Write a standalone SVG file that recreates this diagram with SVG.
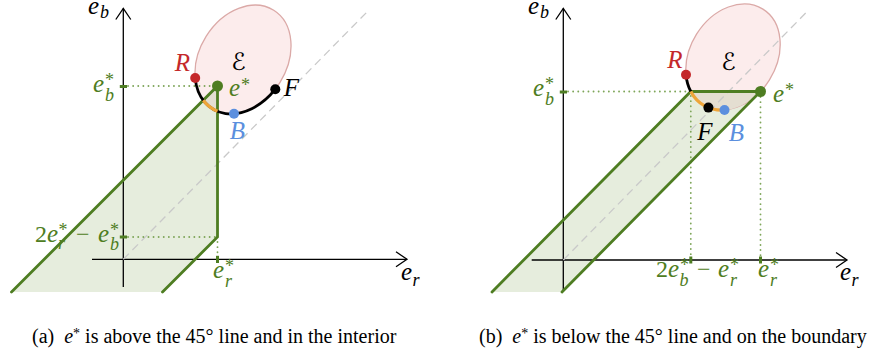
<svg xmlns="http://www.w3.org/2000/svg" width="870" height="354" viewBox="0 0 870 354">
<defs>
<style>
.ax{stroke:#000;stroke-width:1.3;fill:none}
.dash{stroke:#c9c9c9;stroke-width:1.3;stroke-dasharray:8 5;fill:none}
.dot{stroke:#7fa65a;stroke-width:1.8;stroke-dasharray:0.1 5;stroke-linecap:round;fill:none}
.tick{stroke:#4e7d22;stroke-width:3;fill:none}
.gl{stroke:#4e7d22;stroke-width:2.8;fill:none;stroke-linecap:round}
.gfill{fill:#e6eddd;stroke:none}
.ell{fill:#fcecec;stroke:#dba9a7;stroke-width:1.3}
.inter{fill:#e4ded1;stroke:none}
.arcb{stroke:#000;stroke-width:2.8;fill:none}
.arco{stroke:#eea53a;stroke-width:3.2;fill:none}
.mi{font-family:"Liberation Serif","Times New Roman",serif;font-style:italic;font-size:25px}
.up{font-family:"Liberation Serif","Times New Roman",serif;font-size:24px}
.sub{font-family:"Liberation Serif","Times New Roman",serif;font-style:italic;font-size:18px}
.st{font-family:"Liberation Serif","Times New Roman",serif;font-size:18px}
.scr{font-family:"DejaVu Serif","DejaVu Sans",serif;font-size:24px;text-anchor:middle}
.g{fill:#4e7d22}
.red{fill:#c4282a}
.blue{fill:#5b8fde}
.cap{font-family:"Liberation Serif","Times New Roman",serif;font-size:20px;fill:#000}
</style>
<marker id="arr" markerUnits="userSpaceOnUse" viewBox="-13 -9 15 18" refX="0" refY="0" markerWidth="15" markerHeight="18" orient="auto">
<path d="M -11 -7.5 L 0 0 L -11 7.5" stroke="#000" stroke-width="1.3" fill="none"/>
</marker>
</defs>

<!-- Panel (a) -->
<g id="panel-a">
<g id="a-region">
<path class="gfill" d="M 11.5 292 L 217.5 86 L 217.5 237 L 162.5 292 Z"/>
</g>
<g id="a-ellipse">
<ellipse class="ell" cx="243" cy="59.5" rx="43.5" ry="58" transform="rotate(32 243 59.5)"/>
<path class="inter" d="M 203.2 100.3 L 217.5 86 L 217.5 111.3 A 43.5 58 32 0 1 203.2 100.3 Z"/>
</g>
<g id="a-axes">
<line class="ax" x1="123.3" y1="287" x2="123.3" y2="8.5" marker-end="url(#arr)"/>
<line class="ax" x1="92" y1="259.3" x2="407" y2="259.3" marker-end="url(#arr)"/>
<line class="dash" x1="123.3" y1="259.3" x2="367" y2="12"/>
</g>
<g id="a-guides">
<line class="dot" x1="128" y1="86" x2="214" y2="86"/>
<line class="dot" x1="128" y1="237" x2="215" y2="237"/>
<line class="dot" x1="217.5" y1="242" x2="217.5" y2="256"/>
<line class="tick" x1="119.8" y1="86.5" x2="127" y2="86.5"/>
<line class="tick" x1="119.8" y1="237" x2="127" y2="237"/>
<line class="tick" x1="217.5" y1="255.8" x2="217.5" y2="263"/>
</g>
<g id="a-connectors">
<path class="gl" d="M 11.5 292 L 217.5 86 L 217.5 237 L 162.5 292"/>
<path class="arcb" d="M 195.2 78 A 43.5 58 32 0 0 275.3 89.2"/>
<path class="arco" d="M 203.2 100.3 A 43.5 58 32 0 0 217.5 111.3"/>
</g>
<g id="a-R"><circle cx="195.2" cy="78" r="5" fill="#c4282a"/><text class="mi red" x="182.5" y="71" text-anchor="middle">R</text></g>
<g id="a-F"><circle cx="275.3" cy="89.2" r="5" fill="#000"/><text class="mi" x="291.5" y="96" text-anchor="middle">F</text></g>
<g id="a-B"><circle cx="234" cy="113.7" r="5" fill="#5b8fde"/><text class="mi blue" x="237.5" y="139" text-anchor="middle">B</text></g>
<g id="a-estar"><circle cx="217.5" cy="86" r="5.5" fill="#4e7d22"/><text class="mi g" x="229" y="96">e</text><text class="st g" x="241" y="90.5">*</text></g>
<g id="a-E"><text class="scr" x="238.5" y="70">ℰ</text></g>
<g id="a-labels">
<text class="mi" x="88" y="14">e</text><text class="sub" x="100" y="18">b</text>
<text class="mi" x="401" y="280">e</text><text class="sub" x="412.5" y="286">r</text>
<text class="mi g" x="93" y="92">e</text><text class="st g" x="105" y="85.5">*</text><text class="sub g" x="105" y="101">b</text>
<text class="up g" x="35" y="242">2</text><text class="mi g" x="47" y="242">e</text><text class="st g" x="58.5" y="235.5">*</text><text class="sub g" x="58" y="249">r</text>
<text class="up g" x="76" y="242">−</text>
<text class="mi g" x="98" y="242">e</text><text class="st g" x="110" y="235.5">*</text><text class="sub g" x="110" y="250">b</text>
<text class="mi g" x="213" y="278">e</text><text class="st g" x="225" y="271.5">*</text><text class="sub g" x="225" y="287">r</text>
</g>
</g>

<!-- Panel (b) -->
<g id="panel-b">
<g id="b-region">
<path class="gfill" d="M 690.8 91.5 L 760.5 91.5 L 562 292 L 492 292 Z"/>
</g>
<g id="b-ellipse">
<ellipse class="ell" cx="733" cy="57" rx="43" ry="56.5" transform="rotate(32 733 57)"/>
<path class="inter" d="M 690.8 91.5 L 760.5 91.5 A 43 56.5 32 0 1 690.8 91.5 Z"/>
</g>
<g id="b-axes">
<line class="ax" x1="563.3" y1="291" x2="563.3" y2="8.5" marker-end="url(#arr)"/>
<line class="ax" x1="531.7" y1="260" x2="847" y2="260" marker-end="url(#arr)"/>
<line class="dash" x1="563.3" y1="260" x2="806.7" y2="12"/>
</g>
<g id="b-guides">
<line class="dot" x1="568" y1="91.5" x2="688" y2="91.5"/>
<line class="dot" x1="690.8" y1="96" x2="690.8" y2="256"/>
<line class="dot" x1="760.5" y1="97" x2="760.5" y2="256"/>
<line class="tick" x1="559.8" y1="92" x2="567" y2="92"/>
<line class="tick" x1="690.8" y1="256.5" x2="690.8" y2="263.5"/>
<line class="tick" x1="760.5" y1="256.5" x2="760.5" y2="263.5"/>
</g>
<g id="b-connectors">
<path class="gl" d="M 492 292 L 690.8 91.5 L 760.5 91.5 L 562 292"/>
<path class="arcb" d="M 686 74.8 A 43 56.5 32 0 0 690.8 91.5"/>
<path class="arco" d="M 690.8 91.5 A 43 56.5 32 0 0 724.5 110"/>
</g>
<g id="b-R"><circle cx="686" cy="74.8" r="5" fill="#c4282a"/><text class="mi red" x="675" y="68" text-anchor="middle">R</text></g>
<g id="b-F"><circle cx="708.4" cy="107.6" r="5" fill="#000"/><text class="mi" x="705" y="140" text-anchor="middle">F</text></g>
<g id="b-B"><circle cx="724.5" cy="110" r="5" fill="#5b8fde"/><text class="mi blue" x="736.5" y="141" text-anchor="middle">B</text></g>
<g id="b-estar"><circle cx="760.5" cy="91.5" r="5.5" fill="#4e7d22"/><text class="mi g" x="773" y="101.5">e</text><text class="st g" x="785" y="96">*</text></g>
<g id="b-E"><text class="scr" x="728.5" y="70">ℰ</text></g>
<g id="b-labels">
<text class="mi" x="528" y="14">e</text><text class="sub" x="540" y="18">b</text>
<text class="mi" x="840" y="280">e</text><text class="sub" x="851.5" y="286">r</text>
<text class="mi g" x="533" y="96">e</text><text class="st g" x="545" y="89.5">*</text><text class="sub g" x="545" y="105">b</text>
<text class="up g" x="656" y="277">2</text><text class="mi g" x="668" y="277">e</text><text class="st g" x="680" y="270.5">*</text><text class="sub g" x="679.5" y="286">b</text>
<text class="up g" x="697" y="277">−</text>
<text class="mi g" x="718" y="277">e</text><text class="st g" x="730" y="270.5">*</text><text class="sub g" x="730" y="286">r</text>
<text class="mi g" x="758" y="277">e</text><text class="st g" x="770" y="270.5">*</text><text class="sub g" x="770" y="286">r</text>
</g>
</g>

<g id="captions">
<text class="cap" x="32" y="343">(a)<tspan dx="10" font-style="italic">e</tspan><tspan dy="-5" font-size="14">*</tspan><tspan dy="5"> is above the 45° line and in the interior</tspan></text>
<text class="cap" x="479" y="343">(b)<tspan dx="10" font-style="italic">e</tspan><tspan dy="-5" font-size="14">*</tspan><tspan dy="5"> is below the 45° line and on the boundary</tspan></text>
</g>
</svg>
